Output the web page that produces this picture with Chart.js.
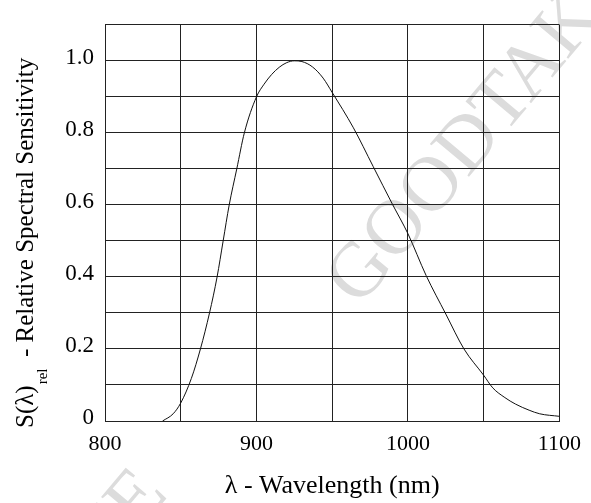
<!DOCTYPE html>
<html>
<head>
<meta charset="utf-8">
<script src="https://cdn.jsdelivr.net/npm/chart.js@4/dist/chart.umd.min.js"></script>
<style>
  html, body { margin: 0; padding: 0; background: #fff; }
  canvas { display: block; }
</style>
</head>
<body>
<canvas id="chart" width="591" height="503"></canvas>
<script>
// Relative spectral sensitivity curve
const wavelengthNm = [838, 845, 850, 857, 863, 869, 874, 878, 882, 887, 892, 900, 905, 910, 915, 920, 925, 930, 937, 944, 950, 964, 977, 990, 1000, 1012, 1025, 1037, 1050, 1056, 1064, 1071, 1080, 1087, 1100];
const relativeSensitivity = [0, 0.02, 0.05, 0.118, 0.2, 0.3, 0.4, 0.5, 0.6, 0.7, 0.8, 0.9, 0.935, 0.962, 0.982, 0.995, 1.0, 0.998, 0.983, 0.952, 0.912, 0.814, 0.707, 0.6, 0.52, 0.404, 0.297, 0.2, 0.127, 0.092, 0.065, 0.047, 0.03, 0.02, 0.013];

const xTickValues = [800, 900, 1000, 1100];
const xTickLabels = ['800', '900', '1000', '1100'];
const yTickValues = [0, 0.2, 0.4, 0.6, 0.8, 1.0];
const yTickLabels = ['0', '0.2', '0.4', '0.6', '0.8', '1.0'];

const xAxisTitle = 'λ - Wavelength (nm)';
const yAxisTitleMain = 'S(λ)';
const yAxisTitleSub = 'rel';
const yAxisTitleRest = '- Relative Spectral Sensitivity';
const watermarkText = 'GOODTAKE';

const SERIF = '"Liberation Serif", "Times New Roman", serif';
const LINE = '#222';

function labelFor(values, labels, v) {
  const i = values.findIndex(t => Math.abs(t - v) < 1e-6);
  return i >= 0 ? labels[i] : '';
}

// White page plus faint diagonal watermark behind the grid
const backdrop = {
  id: 'backdrop',
  beforeDraw(chart) {
    const ctx = chart.ctx;
    ctx.save();
    ctx.fillStyle = '#fff';
    ctx.fillRect(0, 0, chart.width, chart.height);
    ctx.fillStyle = '#dcdcdc';
    ctx.font = '78px ' + SERIF;
    ctx.textBaseline = 'alphabetic';
    ctx.textAlign = 'left';
    [[359, 308], [-105, 822]].forEach(([x, y]) => {
      ctx.save();
      ctx.translate(x, y);
      ctx.rotate(-50 * Math.PI / 180);
      ctx.fillText(watermarkText, 0, 0);
      ctx.restore();
    });
    ctx.restore();
  }
};

// Axis titles (the vertical one carries a subscript)
const axisTitles = {
  id: 'axisTitles',
  afterDraw(chart) {
    const ctx = chart.ctx;
    const area = chart.chartArea;
    ctx.save();
    ctx.fillStyle = '#000';
    ctx.textBaseline = 'alphabetic';

    ctx.font = '26px ' + SERIF;
    ctx.textAlign = 'center';
    ctx.fillText(xAxisTitle, (area.left + area.right) / 2, 493);

    ctx.textAlign = 'left';
    ctx.translate(33, 428);
    ctx.rotate(-Math.PI / 2);
    ctx.font = '25px ' + SERIF;
    ctx.fillText(yAxisTitleMain, 0, 0);
    const mainW = ctx.measureText(yAxisTitleMain).width;
    ctx.font = '15px ' + SERIF;
    ctx.fillText(yAxisTitleSub, mainW + 1, 14);
    ctx.font = '25px ' + SERIF;
    ctx.fillText(yAxisTitleRest, 71, 0);
    ctx.restore();
  }
};

new Chart(document.getElementById('chart'), {
  type: 'line',
  data: {
    datasets: [{
      data: wavelengthNm.map((x, i) => ({ x, y: relativeSensitivity[i] })),
      borderColor: '#111',
      borderWidth: 1,
      pointRadius: 0,
      fill: false,
      cubicInterpolationMode: 'monotone'
    }]
  },
  options: {
    responsive: false,
    animation: false,
    devicePixelRatio: 1,
    layout: { padding: { top: 9, right: 31, bottom: 0, left: 0 } },
    plugins: { legend: { display: false }, tooltip: { enabled: false } },
    scales: {
      x: {
        type: 'linear',
        min: 800,
        max: 1100,
        afterFit(s) { s.height = 82; },
        grid: { color: LINE, lineWidth: 1, drawTicks: false },
        border: { color: LINE, width: 1 },
        ticks: {
          stepSize: 50,
          padding: 10,
          autoSkip: false,
          maxRotation: 0,
          color: '#000',
          font: { family: SERIF, size: 22 },
          callback: v => labelFor(xTickValues, xTickLabels, v)
        }
      },
      y: {
        min: 0,
        max: 1.1,
        afterFit(s) { s.width = 105; },
        grid: { color: LINE, lineWidth: 1, drawTicks: false },
        border: { color: LINE, width: 1 },
        ticks: {
          stepSize: 0.1,
          padding: 11,
          labelOffset: -3,
          autoSkip: false,
          color: '#000',
          font: { family: SERIF, size: 23 },
          callback: v => labelFor(yTickValues, yTickLabels, v)
        }
      }
    }
  },
  plugins: [backdrop, axisTitles]
});
</script>
</body>
</html>
